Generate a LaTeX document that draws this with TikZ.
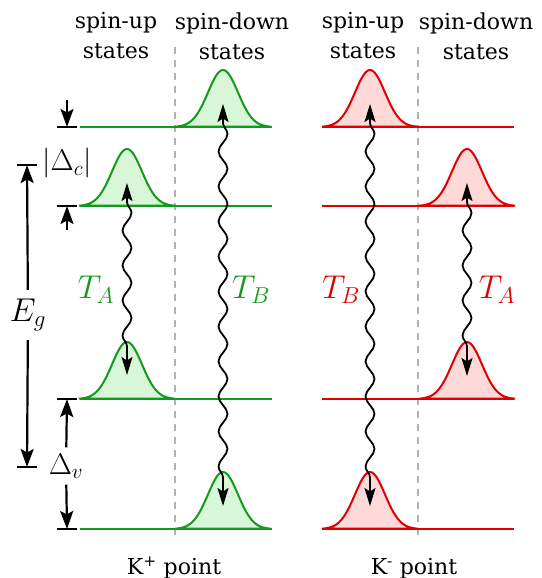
\documentclass[tikz,border=0pt]{standalone}
\usepackage{fix-cm}
\usepackage{amsmath}
\usepackage{fontspec}
\setmainfont{DejaVu Serif}
\usepackage{tikz}
\usetikzlibrary{arrows.meta,positioning,decorations.pathmorphing}
\definecolor{kpc}{HTML}{14991A}
\definecolor{kpl}{HTML}{D8F6D8}
\definecolor{kmc}{HTML}{E00000}
\definecolor{kml}{HTML}{FFD8D8}
\tikzset{
  lvl/.style={line width=2pt},
  sep/.style={black!30,line width=1.6pt,dash pattern=on 7pt off 6pt},
  bar/.style={line width=2.6pt},
  dimar/.style={-{Stealth[length=18pt,width=13pt,inset=3.5pt]},line width=2.2pt},
  wav/.style={{Stealth[length=18pt,width=11pt,inset=3.5pt]}-{Stealth[length=18pt,width=11pt,inset=3.5pt]},line width=1.8pt,
    decorate,decoration={snake,amplitude=4.5pt,segment length=35pt,pre length=19pt,post length=19pt}},
  hdr/.style={align=center,font=\fontsize{22}{30}\selectfont,inner sep=0pt},
  lab/.style={font=\fontsize{33}{36}\selectfont,inner sep=0pt}
}
\newcommand{\bump}[4]{\filldraw[draw=#3,fill=#4,line width=2pt] plot[domain=-48:48,samples=60]
  ({#1+\x},{-#2+57*exp(-((\x)*(\x))/450)}) -- cycle;}

\begin{document}
\begin{tikzpicture}[x=1pt,y=1pt]
\useasboundingbox (0,0) rectangle (541,-578);
% headers
\node[hdr] (kpu) at (116,-36) {spin-up\\states};
\node[hdr] (kpd) at (232,-36) {spin-down\\states};
\node[hdr] (kmu) at (363,-36) {spin-up\\states};
\node[hdr] (kmd) at (476,-36) {spin-down\\states};
\draw[sep] (175,-47) -- (175,-536);
\draw[sep] (418,-47) -- (418,-536);
% bands
\bump{127}{206}{kpc}{kpl} \bump{127}{399}{kpc}{kpl}
\bump{223}{127}{kpc}{kpl} \bump{223}{529}{kpc}{kpl}
\bump{370}{127}{kmc}{kml} \bump{370}{529}{kmc}{kml}
\bump{467}{206}{kmc}{kml} \bump{467}{399}{kmc}{kml}
\foreach \y in {127,206,399,529}{
  \draw[lvl,kpc] (80,-\y) -- (272,-\y);
  \draw[lvl,kmc] (322,-\y) -- (514,-\y);
  \draw[bar] (57,-\y) -- (77,-\y);
}
% transitions
\coordinate (gta) at (127,-183); \coordinate (gtb) at (127,-375);
\coordinate (gba) at (223,-104); \coordinate (gbb) at (223,-506);
\coordinate (rba) at (370,-104); \coordinate (rbb) at (370,-506);
\coordinate (rta) at (467,-183); \coordinate (rtb) at (467,-376);
\draw[wav] (gta) -- (gtb);
\draw[wav] (gba) -- (gbb);
\draw[wav] (rba) -- (rbb);
\draw[wav] (rta) -- (rtb);
\node[lab,kpc] (gtal) at (96,-290) {$T_A$};
\node[lab,kpc] (gtbl) at (251,-290) {$T_B$};
\node[lab,kmc] (rtbl) at (341,-290) {$T_B$};
\node[lab,kmc] (rtal) at (497,-290) {$T_A$};
% gap sizes
\coordinate (egt) at (27,-165); \coordinate (egb) at (27,-467);
\node[lab,inner sep=9pt] (eg) at (28,-315) {$E_g$};
\draw[dimar] (eg) -- (egt);
\draw[dimar] (eg) -- (egb);
\draw[bar] ([xshift=-10pt]egt) -- ([xshift=10pt]egt);
\draw[bar] ([xshift=-10pt]egb) -- ([xshift=10pt]egb);
\coordinate (dca) at (67,-100); \coordinate (dct) at (67,-127);
\coordinate (dcd) at (67,-230); \coordinate (dcb) at (67,-206);
\draw[dimar] (dca) -- (dct);
\draw[dimar] (dcd) -- (dcb);
\node[lab,font=\fontsize{30}{32}\selectfont] (dc) at (67,-163) {$|\Delta_c|$};
\node[lab,font=\fontsize{30}{32}\selectfont,inner sep=6pt] (dv) at (66,-466) {$\Delta_v$};
\coordinate (dvt) at (67,-399); \coordinate (dvb) at (67,-529);
\draw[dimar] (dv) -- (dvt);
\draw[dimar] (dv) -- (dvb);
% valleys
\node[hdr,anchor=base] (kp) at (174,-574) {K\textsuperscript{+} point};
\node[hdr,anchor=base] (km) at (414,-574) {K\textsuperscript{-} point};
\end{tikzpicture}
\end{document}
